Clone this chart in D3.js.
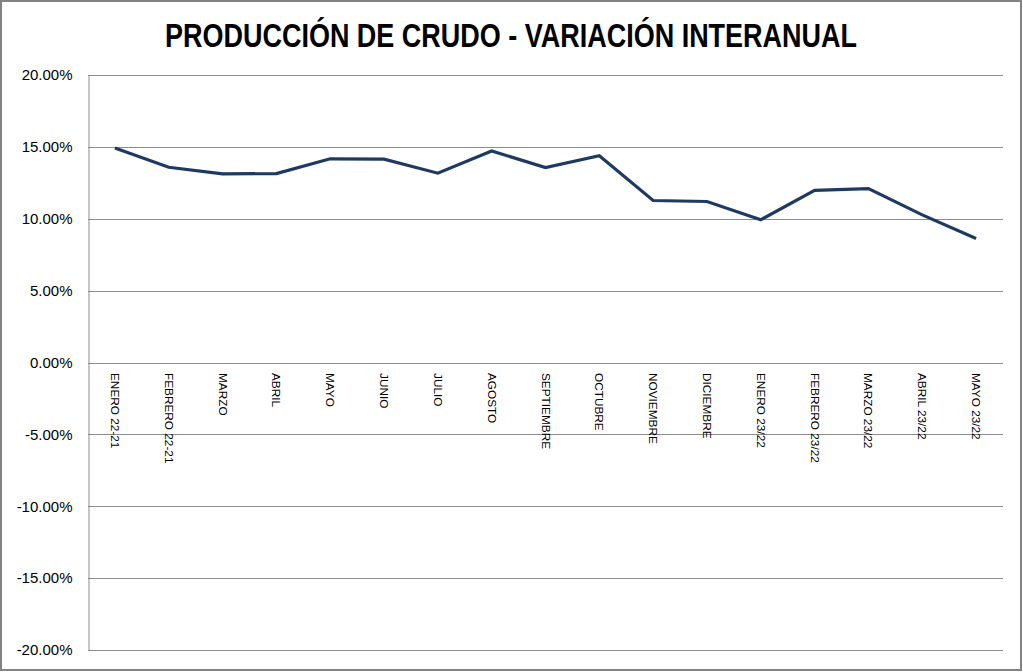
<!DOCTYPE html>
<html><head><meta charset="utf-8">
<script src="https://cdn.jsdelivr.net/npm/d3@7"></script>
<style>html,body{margin:0;padding:0;background:#fff;}svg{display:block;}</style>
</head><body>
<script>
const categories = ["ENERO 22-21","FEBRERO 22-21","MARZO","ABRIL","MAYO","JUNIO","JULIO","AGOSTO","SEPTIEMBRE","OCTUBRE","NOVIEMBRE","DICIEMBRE","ENERO 23/22","FEBRERO 23/22","MARZO 23/22","ABRIL 23/22","MAYO 23/22"];
const values = [14.93, 13.58, 13.12, 13.14, 14.17, 14.15, 13.17, 14.72, 13.56, 14.38, 11.27, 11.2, 9.93, 11.97, 12.1, 10.27, 8.62];
const yTicks = [20, 15, 10, 5, 0, -5, -10, -15, -20];
const title = "PRODUCCIÓN DE CRUDO - VARIACIÓN INTERANUAL";

const W = 1023, H = 672;
const m = {left: 88, right: 1003, top: 75, bottom: 650};
const svg = d3.select("body").append("svg").attr("width", W).attr("height", H);

svg.append("rect").attr("x", 1).attr("y", 1).attr("width", W - 3).attr("height", H - 3)
  .attr("fill", "#fff").attr("stroke", "#828282").attr("stroke-width", 2);

svg.append("text").attr("x", 511).attr("y", 47).attr("text-anchor", "middle")
  .attr("font-family", "Liberation Sans Narrow, Arial Narrow, sans-serif")
  .attr("font-weight", "bold").attr("font-size", 33).attr("fill", "#000")
  .attr("textLength", 692).attr("lengthAdjust", "spacingAndGlyphs")
  .text(title);

const x = d3.scaleBand().domain(categories).range([m.left, m.right]);
const y = d3.scaleLinear().domain([-20, 20]).range([m.bottom, m.top]);

// gridlines
svg.append("g").selectAll("line").data(yTicks).join("line")
  .attr("x1", m.left).attr("x2", m.right)
  .attr("y1", d => Math.round(y(d)) + 0.5).attr("y2", d => Math.round(y(d)) + 0.5)
  .attr("stroke", "#8c8c8c").attr("stroke-width", 1);

// y axis
const yAxis = svg.append("g").attr("transform", `translate(${m.left + 0.5},0)`)
  .call(d3.axisLeft(y).tickValues(yTicks).tickSize(0).tickPadding(16).tickFormat(d => d.toFixed(2) + "%"));
yAxis.select(".domain").attr("stroke", "#8c8c8c");
yAxis.selectAll("text").attr("font-family", "Liberation Sans, Arial, sans-serif").attr("font-size", 15).attr("fill", "#000");

// x labels
svg.append("g").selectAll("text").data(categories).join("text")
  .attr("transform", d => `translate(${x(d) + x.bandwidth() / 2},373) rotate(90)`)
  .attr("text-anchor", "start").attr("dominant-baseline", "central")
  .attr("font-family", "Liberation Sans, Arial, sans-serif").attr("font-size", 11.8).attr("fill", "#000")
  .text(d => d);

// line
const line = d3.line().x((d, i) => x(categories[i]) + x.bandwidth() / 2).y(d => y(d));
svg.append("path").datum(values).attr("d", line)
  .attr("fill", "none").attr("stroke", "#1f3a60").attr("stroke-width", 3.2).attr("stroke-linejoin", "miter");
</script>
</body></html>
